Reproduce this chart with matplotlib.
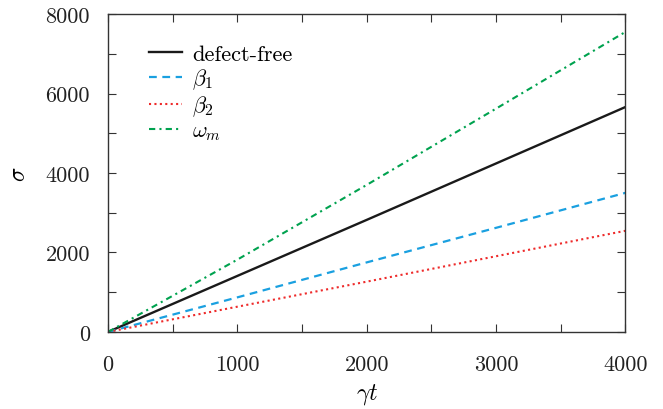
import matplotlib
matplotlib.use("Agg")
import matplotlib.pyplot as plt
from matplotlib.ticker import MultipleLocator, FuncFormatter

plt.rcParams['font.family'] = ['cmr10']
plt.rcParams['mathtext.fontset'] = 'cm'
plt.rcParams['axes.formatter.use_mathtext'] = True

gamma_t = [0, 1000, 2000, 3000, 4000]
defect_free = [0, 1410, 2820, 4240, 5660]
beta1 = [0, 870, 1750, 2620, 3500]
beta2 = [0, 635, 1265, 1905, 2545]
omega_m = [0, 1820, 3700, 5620, 7550]

labels = ['defect-free', r'$\beta_1$', r'$\beta_2$', r'$\omega_m$']

fig = plt.figure(figsize=(6.63, 4.10), dpi=100)
ax = fig.add_axes([0.163, 0.188, 0.780, 0.775])

ax.plot(gamma_t, defect_free, color='#1a1a1a', lw=1.7, ls='-', label=labels[0])
ax.plot(gamma_t, beta1, color='#1aa0e0', lw=1.6, ls=(0, (3.5, 2.5)), label=labels[1])
ax.plot(gamma_t, beta2, color='#ee2a2a', lw=1.5, ls=(0, (1, 1.6)), label=labels[2])
ax.plot(gamma_t, omega_m, color='#00a24f', lw=1.5, ls=(0, (3, 2, 1, 2)), label=labels[3])

ax.set_xlim(0, 4000)
ax.set_ylim(0, 8000)
ax.xaxis.set_major_locator(MultipleLocator(500))
ax.yaxis.set_major_locator(MultipleLocator(1000))
ax.xaxis.set_major_formatter(FuncFormatter(lambda v, p: f'{int(round(v))}' if int(round(v)) % 1000 == 0 else ''))
ax.yaxis.set_major_formatter(FuncFormatter(lambda v, p: f'{int(round(v))}' if int(round(v)) % 2000 == 0 else ''))
ax.tick_params(direction='in', length=6, width=0.8, top=True, right=True, labelsize=16,
               colors='#333333', labelcolor='#222222')
ax.tick_params(axis='x', pad=16)
ax.tick_params(axis='y', pad=13)
for s in ax.spines.values():
    s.set_linewidth(1.0)
    s.set_color('#333333')

ax.set_xlabel(r'$\gamma t$', fontsize=17, labelpad=5)
ax.set_ylabel(r'$\sigma$', fontsize=17, labelpad=11)

leg = ax.legend(loc='upper left', frameon=False, fontsize=16, handlelength=1.5, handletextpad=0.45,
                labelspacing=0.11, bbox_to_anchor=(0.062, 0.932), borderaxespad=0.0)

fig.savefig('out.png', dpi=100)
